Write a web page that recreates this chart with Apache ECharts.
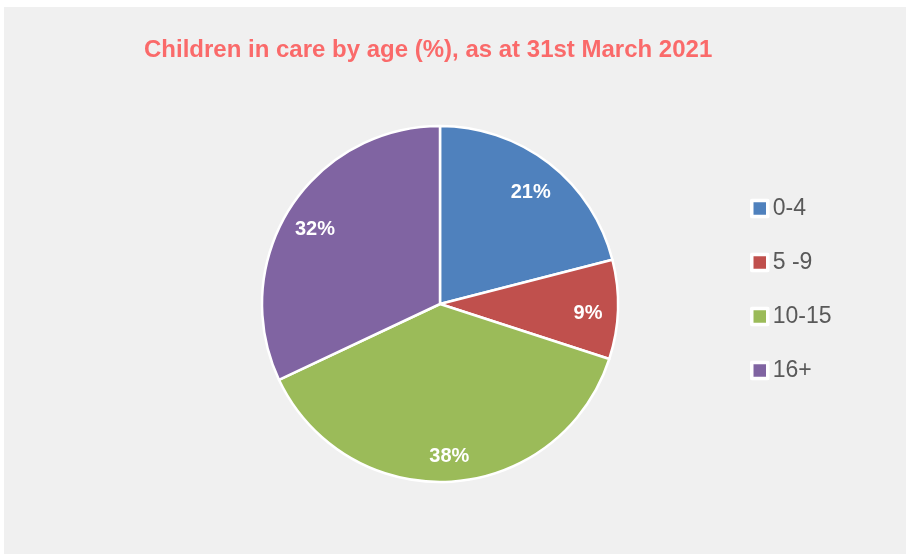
<!DOCTYPE html>
<html>
<head>
<meta charset="utf-8">
<script src="https://cdn.jsdelivr.net/npm/echarts@6/dist/echarts.min.js"></script>
<style>
  html, body { margin: 0; padding: 0; background: #ffffff; }
  #chart { width: 906px; height: 554px; }
</style>
</head>
<body>
<div id="chart"></div>
<script>
// Age bands and their share of children in care (%)
const ageBands = ['0-4', '5 -9', '10-15', '16+'];
const shares = [21, 9, 38, 32];
const sliceColors = ['#4f81bd', '#c0504d', '#9bbb59', '#8064a2'];
const chartTitle = 'Children in care by age (%), as at 31st March 2021';

const pieData = ageBands.map((name, i) => ({
  name: name,
  value: shares[i],
  itemStyle: { color: sliceColors[i] }
}));

const chart = echarts.init(document.getElementById('chart'), null, { renderer: 'canvas' });

const center = [440, 304];
const outerR = 178;

chart.setOption({
  backgroundColor: '#ffffff',
  animation: false,
  graphic: [{
    type: 'rect',
    z: -10,
    silent: true,
    shape: { x: 4, y: 7, width: 902, height: 547 },
    style: { fill: '#f0f0f0' }
  }],
  title: {
    text: chartTitle,
    left: 139,
    top: 33,
    textStyle: {
      fontFamily: '"Liberation Sans", sans-serif',
      fontWeight: 'bold',
      fontSize: 24,
      color: '#fa6a6a'
    }
  },
  legend: {
    orient: 'vertical',
    left: 745,
    top: 192,
    itemWidth: 16,
    itemHeight: 16,
    itemGap: 31,
    icon: 'rect',
    itemStyle: { borderColor: '#ffffff', borderWidth: 3.5 },
    textStyle: {
      fontFamily: '"Liberation Sans", sans-serif',
      fontSize: 23,
      lineHeight: 20,
      color: '#595959',
      padding: [0, 0, 0, 0]
    },
    data: ageBands
  },
  series: [
    {
      type: 'pie',
      center: center,
      radius: outerR,
      startAngle: 90,
      clockwise: true,
      avoidLabelOverlap: false,
      itemStyle: { borderColor: '#ffffff', borderWidth: 2.5 },
      label: { show: false },
      labelLine: { show: false },
      emphasis: { disabled: true },
      data: pieData
    },
    {
      // transparent ring that carries the percentage labels at ~82% of the radius
      type: 'pie',
      center: center,
      radius: [outerR * 0.63, outerR],
      startAngle: 90,
      clockwise: true,
      silent: true,
      avoidLabelOverlap: false,
      itemStyle: { color: 'rgba(0,0,0,0)', borderWidth: 0 },
      label: {
        show: true,
        position: 'inside',
        formatter: '{gap|}\n{pct|{c}%}',
        rich: {
          gap: { lineHeight: 10, fontSize: 1 },
          pct: {
            color: '#ffffff',
            fontFamily: '"Liberation Sans", sans-serif',
            fontWeight: 'bold',
            fontSize: 20,
            lineHeight: 22
          }
        }
      },
      labelLine: { show: false },
      emphasis: { disabled: true },
      legendHoverLink: false,
      data: pieData.map(d => ({ name: d.name, value: d.value }))
    }
  ]
});
</script>
</body>
</html>
